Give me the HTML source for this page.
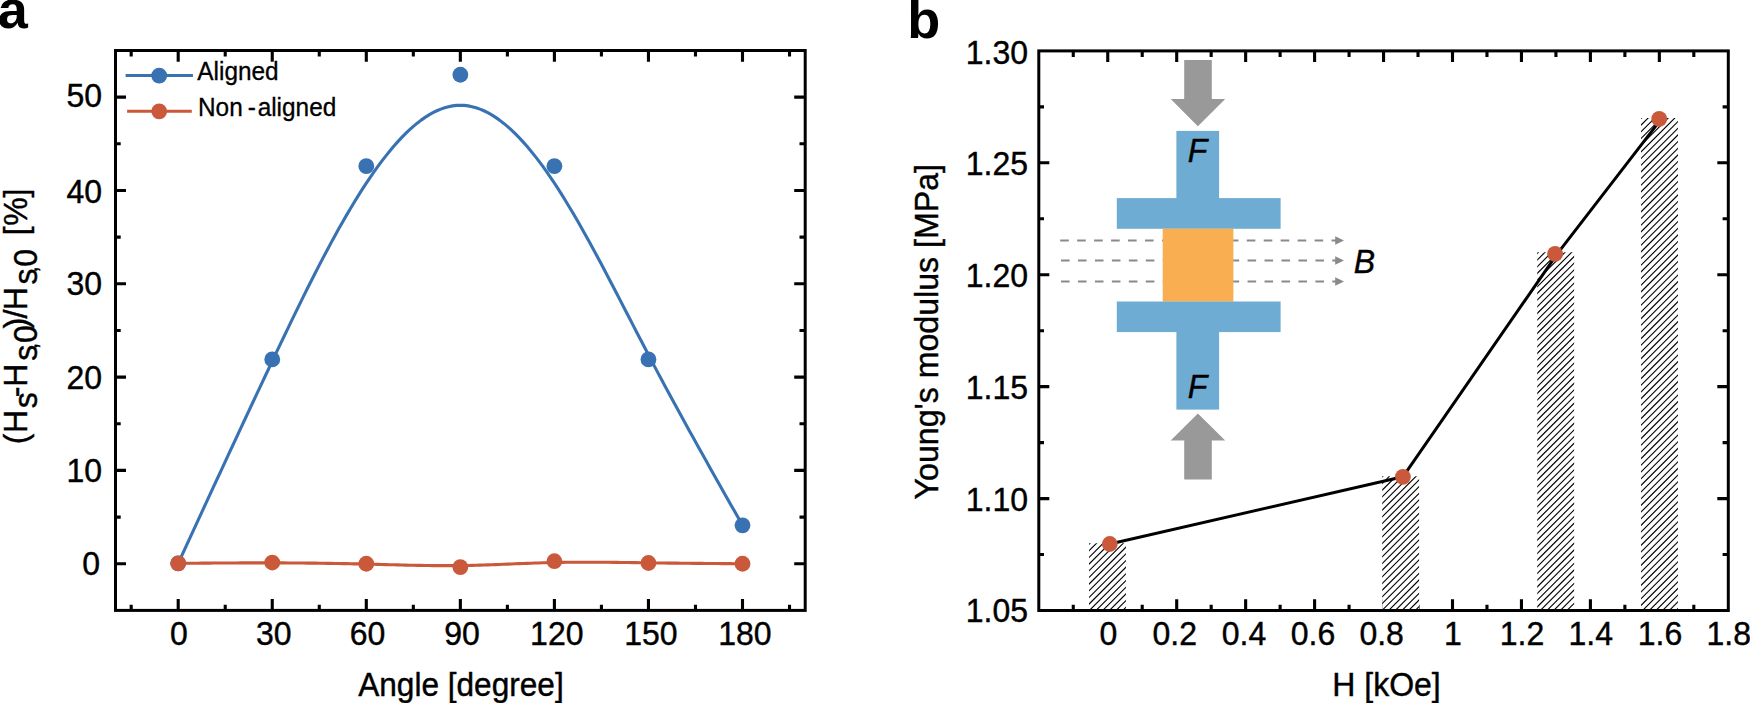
<!DOCTYPE html>
<html lang="en"><head><meta charset="utf-8"><title>Figure</title>
<style>html,body{margin:0;padding:0;background:#fff;overflow:hidden}body{width:1750px;height:703px;position:relative}</style>
</head><body>
<svg width="1750" height="703" viewBox="0 0 1750 703" style="position:absolute;left:0;top:0;display:block">
<rect width="1750" height="703" fill="#fff"/>
<g id="panelA">
<path d="M178.20 563.37L182.12 554.87L186.04 546.37L189.96 537.87L193.88 529.38L197.79 520.89L201.71 512.40L205.63 503.92L209.55 495.44L213.47 486.97L217.39 478.50L221.31 470.05L225.22 461.60L229.14 453.16L233.06 444.73L236.98 436.31L240.90 427.91L244.82 419.52L248.74 411.14L252.66 402.77L256.57 394.42L260.49 386.09L264.41 377.77L268.33 369.47L272.25 361.18L276.17 352.92L280.09 344.68L284.01 336.47L287.93 328.31L291.84 320.18L295.76 312.11L299.68 304.10L303.60 296.15L307.52 288.28L311.44 280.48L315.36 272.76L319.28 265.14L323.19 257.61L327.11 250.19L331.03 242.88L334.95 235.69L338.87 228.62L342.79 221.68L346.71 214.88L350.62 208.23L354.54 201.72L358.46 195.37L362.38 189.18L366.30 183.17L370.22 177.32L374.14 171.67L378.06 166.20L381.98 160.92L385.89 155.85L389.81 150.98L393.73 146.32L397.65 141.88L401.57 137.67L405.49 133.68L409.41 129.93L413.33 126.42L417.24 123.15L421.16 120.14L425.08 117.39L429.00 114.91L432.92 112.69L436.84 110.75L440.76 109.09L444.68 107.72L448.59 106.65L452.51 105.87L456.43 105.40L460.35 105.25L464.27 105.40L468.19 105.87L472.11 106.65L476.03 107.72L479.94 109.09L483.86 110.75L487.78 112.69L491.70 114.91L495.62 117.39L499.54 120.14L503.46 123.15L507.38 126.42L511.29 129.93L515.21 133.68L519.13 137.67L523.05 141.88L526.97 146.32L530.89 150.98L534.81 155.85L538.73 160.92L542.64 166.20L546.56 171.67L550.48 177.32L554.40 183.17L558.32 189.18L562.24 195.36L566.16 201.71L570.08 208.20L573.99 214.83L577.91 221.58L581.83 228.46L585.75 235.46L589.67 242.55L593.59 249.73L597.51 257.00L601.42 264.35L605.34 271.75L609.26 279.22L613.18 286.73L617.10 294.27L621.02 301.84L624.94 309.44L628.86 317.04L632.78 324.63L636.69 332.22L640.61 339.79L644.53 347.33L648.45 354.84L652.54 362.62L656.63 370.35L660.72 378.03L664.81 385.67L668.90 393.27L672.98 400.83L677.07 408.35L681.16 415.83L685.25 423.28L689.34 430.70L693.43 438.08L697.52 445.45L701.61 452.78L705.70 460.10L709.79 467.39L713.88 474.67L717.97 481.93L722.05 489.18L726.14 496.42L730.23 503.64L734.32 510.86L738.41 518.08L742.50 525.30" fill="none" stroke="#3872b2" stroke-width="3.1" stroke-linejoin="round"/>
<path d="M178.20 563.37L182.12 563.33L186.04 563.30L189.96 563.26L193.88 563.23L197.79 563.20L201.71 563.16L205.63 563.13L209.55 563.10L213.47 563.07L217.39 563.04L221.31 563.02L225.22 562.99L229.14 562.97L233.06 562.95L236.98 562.93L240.90 562.91L244.82 562.90L248.74 562.88L252.66 562.87L256.57 562.87L260.49 562.86L264.41 562.86L268.33 562.86L272.25 562.87L276.17 562.88L280.09 562.89L284.01 562.91L287.93 562.93L291.84 562.95L295.76 562.98L299.68 563.01L303.60 563.05L307.52 563.09L311.44 563.13L315.36 563.17L319.28 563.22L323.19 563.28L327.11 563.33L331.03 563.39L334.95 563.46L338.87 563.52L342.79 563.59L346.71 563.67L350.62 563.75L354.54 563.83L358.46 563.92L362.38 564.01L366.30 564.10L370.22 564.20L374.14 564.30L378.06 564.40L381.98 564.50L385.89 564.61L389.81 564.71L393.73 564.81L397.65 564.91L401.57 565.01L405.49 565.10L409.41 565.19L413.33 565.27L417.24 565.35L421.16 565.42L425.08 565.48L429.00 565.54L432.92 565.58L436.84 565.62L440.76 565.64L444.68 565.65L448.59 565.65L452.51 565.64L456.43 565.61L460.35 565.56L464.27 565.50L468.19 565.43L472.11 565.34L476.03 565.24L479.94 565.12L483.86 565.00L487.78 564.87L491.70 564.73L495.62 564.59L499.54 564.44L503.46 564.28L507.38 564.13L511.29 563.97L515.21 563.81L519.13 563.66L523.05 563.50L526.97 563.35L530.89 563.21L534.81 563.07L538.73 562.93L542.64 562.81L546.56 562.69L550.48 562.59L554.40 562.50L558.32 562.42L562.24 562.35L566.16 562.30L570.08 562.25L573.99 562.22L577.91 562.20L581.83 562.19L585.75 562.18L589.67 562.19L593.59 562.20L597.51 562.22L601.42 562.25L605.34 562.28L609.26 562.31L613.18 562.36L617.10 562.40L621.02 562.45L624.94 562.50L628.86 562.55L632.78 562.61L636.69 562.66L640.61 562.72L644.53 562.77L648.45 562.82L652.54 562.88L656.63 562.93L660.72 562.98L664.81 563.03L668.90 563.08L672.98 563.12L677.07 563.16L681.16 563.21L685.25 563.25L689.34 563.29L693.43 563.33L697.52 563.37L701.61 563.40L705.70 563.44L709.79 563.47L713.88 563.51L717.97 563.54L722.05 563.58L726.14 563.61L730.23 563.64L734.32 563.68L738.41 563.71L742.50 563.74" fill="none" stroke="#c9593a" stroke-width="3.1" stroke-linejoin="round"/>
<circle cx="178.20" cy="563.37" r="7.9" fill="#3872b2"/>
<circle cx="272.25" cy="359.38" r="7.9" fill="#3872b2"/>
<circle cx="366.30" cy="166.21" r="7.9" fill="#3872b2"/>
<circle cx="460.35" cy="74.76" r="7.9" fill="#3872b2"/>
<circle cx="554.40" cy="166.21" r="7.9" fill="#3872b2"/>
<circle cx="648.45" cy="359.38" r="7.9" fill="#3872b2"/>
<circle cx="742.50" cy="525.30" r="7.9" fill="#3872b2"/>
<circle cx="178.20" cy="563.37" r="7.9" fill="#c9593a"/>
<circle cx="272.25" cy="562.53" r="7.9" fill="#c9593a"/>
<circle cx="366.30" cy="563.74" r="7.9" fill="#c9593a"/>
<circle cx="460.35" cy="567.10" r="7.9" fill="#c9593a"/>
<circle cx="554.40" cy="561.22" r="7.9" fill="#c9593a"/>
<circle cx="648.45" cy="563.00" r="7.9" fill="#c9593a"/>
<circle cx="742.50" cy="563.74" r="7.9" fill="#c9593a"/>
<path d="M125.6 75.6H192.9" stroke="#3872b2" stroke-width="3.0"/><circle cx="159.2" cy="75.6" r="7.9" fill="#3872b2"/>
<path d="M127.1 111.3H191.8" stroke="#c9593a" stroke-width="3.0"/><circle cx="159.2" cy="111.3" r="7.9" fill="#c9593a"/>
<text transform="translate(197.30 80.40) scale(1 1.03)" style="font-family:'Liberation Sans',Arial,Helvetica,sans-serif;font-size:24.4px" stroke="#000" stroke-width="0.3">Aligned</text>
<text transform="translate(198.00 115.80) scale(1 1.03)" style="font-family:'Liberation Sans',Arial,Helvetica,sans-serif;font-size:24.4px" stroke="#000" stroke-width="0.3">Non<tspan dx="-1.7"> -</tspan><tspan dx="1.7">aligned</tspan></text>
<path d="M178.20 610.40v-11.3M178.20 50.50v11.2M272.25 610.40v-11.3M272.25 50.50v11.2M366.30 610.40v-11.3M366.30 50.50v11.2M460.35 610.40v-11.3M460.35 50.50v11.2M554.40 610.40v-11.3M554.40 50.50v11.2M648.45 610.40v-11.3M648.45 50.50v11.2M742.50 610.40v-11.3M742.50 50.50v11.2M131.18 610.40v-5.7M131.18 50.50v6.1M225.22 610.40v-5.7M225.22 50.50v6.1M319.27 610.40v-5.7M319.27 50.50v6.1M413.33 610.40v-5.7M413.33 50.50v6.1M507.38 610.40v-5.7M507.38 50.50v6.1M601.42 610.40v-5.7M601.42 50.50v6.1M695.48 610.40v-5.7M695.48 50.50v6.1M789.52 610.40v-5.7M789.52 50.50v6.1M115.50 563.74h10.5M805.20 563.74h-11.0M115.50 470.42h10.5M805.20 470.42h-11.0M115.50 377.11h10.5M805.20 377.11h-11.0M115.50 283.79h10.5M805.20 283.79h-11.0M115.50 190.47h10.5M805.20 190.47h-11.0M115.50 97.16h10.5M805.20 97.16h-11.0M115.50 517.08h5.2M805.20 517.08h-5.7M115.50 423.77h5.2M805.20 423.77h-5.7M115.50 330.45h5.2M805.20 330.45h-5.7M115.50 237.13h5.2M805.20 237.13h-5.7M115.50 143.82h5.2M805.20 143.82h-5.7" stroke="#000" stroke-width="3.1" fill="none"/>
<rect x="115.50" y="50.50" width="689.70" height="559.90" fill="none" stroke="#000" stroke-width="3.0"/>
<text transform="translate(178.90 645.20) scale(1 1.03)" text-anchor="middle" style="font-family:'Liberation Sans',Arial,Helvetica,sans-serif;font-size:32px" stroke="#000" stroke-width="0.4">0</text>
<text transform="translate(273.85 645.20) scale(1 1.03)" text-anchor="middle" style="font-family:'Liberation Sans',Arial,Helvetica,sans-serif;font-size:32px" stroke="#000" stroke-width="0.4">30</text>
<text transform="translate(367.60 645.20) scale(1 1.03)" text-anchor="middle" style="font-family:'Liberation Sans',Arial,Helvetica,sans-serif;font-size:32px" stroke="#000" stroke-width="0.4">60</text>
<text transform="translate(461.95 645.20) scale(1 1.03)" text-anchor="middle" style="font-family:'Liberation Sans',Arial,Helvetica,sans-serif;font-size:32px" stroke="#000" stroke-width="0.4">90</text>
<text transform="translate(556.80 645.20) scale(1 1.03)" text-anchor="middle" style="font-family:'Liberation Sans',Arial,Helvetica,sans-serif;font-size:32px" stroke="#000" stroke-width="0.4">120</text>
<text transform="translate(650.85 645.20) scale(1 1.03)" text-anchor="middle" style="font-family:'Liberation Sans',Arial,Helvetica,sans-serif;font-size:32px" stroke="#000" stroke-width="0.4">150</text>
<text transform="translate(744.90 645.20) scale(1 1.03)" text-anchor="middle" style="font-family:'Liberation Sans',Arial,Helvetica,sans-serif;font-size:32px" stroke="#000" stroke-width="0.4">180</text>
<text transform="translate(100.10 575.44) scale(1 1.03)" text-anchor="end" style="font-family:'Liberation Sans',Arial,Helvetica,sans-serif;font-size:32px" stroke="#000" stroke-width="0.4">0</text>
<text transform="translate(102.00 482.12) scale(1 1.03)" text-anchor="end" style="font-family:'Liberation Sans',Arial,Helvetica,sans-serif;font-size:32px" stroke="#000" stroke-width="0.4">10</text>
<text transform="translate(102.00 388.81) scale(1 1.03)" text-anchor="end" style="font-family:'Liberation Sans',Arial,Helvetica,sans-serif;font-size:32px" stroke="#000" stroke-width="0.4">20</text>
<text transform="translate(102.00 295.49) scale(1 1.03)" text-anchor="end" style="font-family:'Liberation Sans',Arial,Helvetica,sans-serif;font-size:32px" stroke="#000" stroke-width="0.4">30</text>
<text transform="translate(102.00 202.87) scale(1 1.03)" text-anchor="end" style="font-family:'Liberation Sans',Arial,Helvetica,sans-serif;font-size:32px" stroke="#000" stroke-width="0.4">40</text>
<text transform="translate(102.00 106.86) scale(1 1.03)" text-anchor="end" style="font-family:'Liberation Sans',Arial,Helvetica,sans-serif;font-size:32px" stroke="#000" stroke-width="0.4">50</text>
<text transform="translate(460.95 696.30) scale(1 1.03)" text-anchor="middle" style="font-family:'Liberation Sans',Arial,Helvetica,sans-serif;font-size:31.6px" stroke="#000" stroke-width="0.4">Angle [degree]</text>
<text transform="translate(-2.30 27.80) scale(1 1.0)" style="font-family:'Liberation Sans',Arial,Helvetica,sans-serif;font-size:54px;font-weight:bold" stroke="#000" stroke-width="0">a</text>
<text transform="scale(1.03 1) rotate(-90)" x="-444.28 -432.93 -408.29 -397.32 -386.73 -360.69 -348.98 -342.95 -328.49 -318.50 -310.23 -284.59 -272.58 -266.75 -244.18 -235.18 -225.64 -197.45" y="26.12 26.12 35.63 26.12 26.12 35.63 35.53 35.63 26.12 26.12 26.12 35.63 35.53 35.63 26.12 26.12 26.12 26.12" style="font-family:'Liberation Sans',Arial,Helvetica,sans-serif;font-size:32px" stroke="#000" stroke-width="0.4">(Hs-Hs<tspan style="font-size:22px">,</tspan>0)/Hs<tspan style="font-size:22px">,</tspan>0 [%]</text>
</g>
<g id="panelB">
<path d="M1107.75 610.50v-11.3M1107.75 50.90v11.2M1176.70 610.50v-11.3M1176.70 50.90v11.2M1245.65 610.50v-11.3M1245.65 50.90v11.2M1314.60 610.50v-11.3M1314.60 50.90v11.2M1383.55 610.50v-11.3M1383.55 50.90v11.2M1452.50 610.50v-11.3M1452.50 50.90v11.2M1521.45 610.50v-11.3M1521.45 50.90v11.2M1590.40 610.50v-11.3M1590.40 50.90v11.2M1659.35 610.50v-11.3M1659.35 50.90v11.2M1073.27 610.50v-5.7M1073.27 50.90v6.1M1142.22 610.50v-5.7M1142.22 50.90v6.1M1211.17 610.50v-5.7M1211.17 50.90v6.1M1280.12 610.50v-5.7M1280.12 50.90v6.1M1349.07 610.50v-5.7M1349.07 50.90v6.1M1418.03 610.50v-5.7M1418.03 50.90v6.1M1486.97 610.50v-5.7M1486.97 50.90v6.1M1555.92 610.50v-5.7M1555.92 50.90v6.1M1624.88 610.50v-5.7M1624.88 50.90v6.1M1693.82 610.50v-5.7M1693.82 50.90v6.1M1038.80 498.58h10.5M1728.30 498.58h-11.0M1038.80 386.66h10.5M1728.30 386.66h-11.0M1038.80 274.74h10.5M1728.30 274.74h-11.0M1038.80 162.82h10.5M1728.30 162.82h-11.0M1038.80 554.54h5.2M1728.30 554.54h-5.7M1038.80 442.62h5.2M1728.30 442.62h-5.7M1038.80 330.70h5.2M1728.30 330.70h-5.7M1038.80 218.78h5.2M1728.30 218.78h-5.7M1038.80 106.86h5.2M1728.30 106.86h-5.7" stroke="#000" stroke-width="3.1" fill="none"/>
<rect x="1089.05" y="543.35" width="36.90" height="67.15" fill="#fff"/>
<clipPath id="cb0"><rect x="1089.05" y="543.35" width="36.90" height="67.15"/></clipPath>
<path d="M1088.05 538.41L1126.95 499.51M1088.05 545.08L1126.95 506.18M1088.05 551.75L1126.95 512.85M1088.05 558.42L1126.95 519.52M1088.05 565.09L1126.95 526.19M1088.05 571.76L1126.95 532.86M1088.05 578.43L1126.95 539.53M1088.05 585.10L1126.95 546.20M1088.05 591.77L1126.95 552.87M1088.05 598.44L1126.95 559.54M1088.05 605.11L1126.95 566.21M1088.05 611.78L1126.95 572.88M1088.05 618.45L1126.95 579.55M1088.05 625.12L1126.95 586.22M1088.05 631.79L1126.95 592.89M1088.05 638.46L1126.95 599.56M1088.05 645.13L1126.95 606.23M1088.05 651.80L1126.95 612.90" stroke="#000" stroke-width="1.12" fill="none" clip-path="url(#cb0)"/>
<rect x="1382.20" y="476.20" width="36.90" height="134.30" fill="#fff"/>
<clipPath id="cb1"><rect x="1382.20" y="476.20" width="36.90" height="134.30"/></clipPath>
<path d="M1381.20 471.15L1420.10 432.25M1381.20 477.82L1420.10 438.92M1381.20 484.49L1420.10 445.59M1381.20 491.16L1420.10 452.26M1381.20 497.83L1420.10 458.93M1381.20 504.50L1420.10 465.60M1381.20 511.17L1420.10 472.27M1381.20 517.84L1420.10 478.94M1381.20 524.51L1420.10 485.61M1381.20 531.18L1420.10 492.28M1381.20 537.85L1420.10 498.95M1381.20 544.52L1420.10 505.62M1381.20 551.19L1420.10 512.29M1381.20 557.86L1420.10 518.96M1381.20 564.53L1420.10 525.63M1381.20 571.20L1420.10 532.30M1381.20 577.87L1420.10 538.97M1381.20 584.54L1420.10 545.64M1381.20 591.21L1420.10 552.31M1381.20 597.88L1420.10 558.98M1381.20 604.55L1420.10 565.65M1381.20 611.22L1420.10 572.32M1381.20 617.89L1420.10 578.99M1381.20 624.56L1420.10 585.66M1381.20 631.23L1420.10 592.33M1381.20 637.90L1420.10 599.00M1381.20 644.57L1420.10 605.67M1381.20 651.24L1420.10 612.34" stroke="#000" stroke-width="1.12" fill="none" clip-path="url(#cb1)"/>
<rect x="1537.25" y="252.36" width="36.90" height="358.14" fill="#fff"/>
<clipPath id="cb2"><rect x="1537.25" y="252.36" width="36.90" height="358.14"/></clipPath>
<path d="M1536.25 247.67L1575.15 208.77M1536.25 254.34L1575.15 215.44M1536.25 261.01L1575.15 222.11M1536.25 267.68L1575.15 228.78M1536.25 274.35L1575.15 235.45M1536.25 281.02L1575.15 242.12M1536.25 287.69L1575.15 248.79M1536.25 294.36L1575.15 255.46M1536.25 301.03L1575.15 262.13M1536.25 307.70L1575.15 268.80M1536.25 314.37L1575.15 275.47M1536.25 321.04L1575.15 282.14M1536.25 327.71L1575.15 288.81M1536.25 334.38L1575.15 295.48M1536.25 341.05L1575.15 302.15M1536.25 347.72L1575.15 308.82M1536.25 354.39L1575.15 315.49M1536.25 361.06L1575.15 322.16M1536.25 367.73L1575.15 328.83M1536.25 374.40L1575.15 335.50M1536.25 381.07L1575.15 342.17M1536.25 387.74L1575.15 348.84M1536.25 394.41L1575.15 355.51M1536.25 401.08L1575.15 362.18M1536.25 407.75L1575.15 368.85M1536.25 414.42L1575.15 375.52M1536.25 421.09L1575.15 382.19M1536.25 427.76L1575.15 388.86M1536.25 434.43L1575.15 395.53M1536.25 441.10L1575.15 402.20M1536.25 447.77L1575.15 408.87M1536.25 454.44L1575.15 415.54M1536.25 461.11L1575.15 422.21M1536.25 467.78L1575.15 428.88M1536.25 474.45L1575.15 435.55M1536.25 481.12L1575.15 442.22M1536.25 487.79L1575.15 448.89M1536.25 494.46L1575.15 455.56M1536.25 501.13L1575.15 462.23M1536.25 507.80L1575.15 468.90M1536.25 514.47L1575.15 475.57M1536.25 521.14L1575.15 482.24M1536.25 527.81L1575.15 488.91M1536.25 534.48L1575.15 495.58M1536.25 541.15L1575.15 502.25M1536.25 547.82L1575.15 508.92M1536.25 554.49L1575.15 515.59M1536.25 561.16L1575.15 522.26M1536.25 567.83L1575.15 528.93M1536.25 574.50L1575.15 535.60M1536.25 581.17L1575.15 542.27M1536.25 587.84L1575.15 548.94M1536.25 594.51L1575.15 555.61M1536.25 601.18L1575.15 562.28M1536.25 607.85L1575.15 568.95M1536.25 614.52L1575.15 575.62M1536.25 621.19L1575.15 582.29M1536.25 627.86L1575.15 588.96M1536.25 634.53L1575.15 595.63M1536.25 641.20L1575.15 602.30M1536.25 647.87L1575.15 608.97M1536.25 654.54L1575.15 615.64" stroke="#000" stroke-width="1.12" fill="none" clip-path="url(#cb2)"/>
<rect x="1641.05" y="118.05" width="36.90" height="492.45" fill="#fff"/>
<clipPath id="cb3"><rect x="1641.05" y="118.05" width="36.90" height="492.45"/></clipPath>
<path d="M1640.05 112.77L1678.95 73.87M1640.05 119.44L1678.95 80.54M1640.05 126.11L1678.95 87.21M1640.05 132.78L1678.95 93.88M1640.05 139.45L1678.95 100.55M1640.05 146.12L1678.95 107.22M1640.05 152.79L1678.95 113.89M1640.05 159.46L1678.95 120.56M1640.05 166.13L1678.95 127.23M1640.05 172.80L1678.95 133.90M1640.05 179.47L1678.95 140.57M1640.05 186.14L1678.95 147.24M1640.05 192.81L1678.95 153.91M1640.05 199.48L1678.95 160.58M1640.05 206.15L1678.95 167.25M1640.05 212.82L1678.95 173.92M1640.05 219.49L1678.95 180.59M1640.05 226.16L1678.95 187.26M1640.05 232.83L1678.95 193.93M1640.05 239.50L1678.95 200.60M1640.05 246.17L1678.95 207.27M1640.05 252.84L1678.95 213.94M1640.05 259.51L1678.95 220.61M1640.05 266.18L1678.95 227.28M1640.05 272.85L1678.95 233.95M1640.05 279.52L1678.95 240.62M1640.05 286.19L1678.95 247.29M1640.05 292.86L1678.95 253.96M1640.05 299.53L1678.95 260.63M1640.05 306.20L1678.95 267.30M1640.05 312.87L1678.95 273.97M1640.05 319.54L1678.95 280.64M1640.05 326.21L1678.95 287.31M1640.05 332.88L1678.95 293.98M1640.05 339.55L1678.95 300.65M1640.05 346.22L1678.95 307.32M1640.05 352.89L1678.95 313.99M1640.05 359.56L1678.95 320.66M1640.05 366.23L1678.95 327.33M1640.05 372.90L1678.95 334.00M1640.05 379.57L1678.95 340.67M1640.05 386.24L1678.95 347.34M1640.05 392.91L1678.95 354.01M1640.05 399.58L1678.95 360.68M1640.05 406.25L1678.95 367.35M1640.05 412.92L1678.95 374.02M1640.05 419.59L1678.95 380.69M1640.05 426.26L1678.95 387.36M1640.05 432.93L1678.95 394.03M1640.05 439.60L1678.95 400.70M1640.05 446.27L1678.95 407.37M1640.05 452.94L1678.95 414.04M1640.05 459.61L1678.95 420.71M1640.05 466.28L1678.95 427.38M1640.05 472.95L1678.95 434.05M1640.05 479.62L1678.95 440.72M1640.05 486.29L1678.95 447.39M1640.05 492.96L1678.95 454.06M1640.05 499.63L1678.95 460.73M1640.05 506.30L1678.95 467.40M1640.05 512.97L1678.95 474.07M1640.05 519.64L1678.95 480.74M1640.05 526.31L1678.95 487.41M1640.05 532.98L1678.95 494.08M1640.05 539.65L1678.95 500.75M1640.05 546.32L1678.95 507.42M1640.05 552.99L1678.95 514.09M1640.05 559.66L1678.95 520.76M1640.05 566.33L1678.95 527.43M1640.05 573.00L1678.95 534.10M1640.05 579.67L1678.95 540.77M1640.05 586.34L1678.95 547.44M1640.05 593.01L1678.95 554.11M1640.05 599.68L1678.95 560.78M1640.05 606.35L1678.95 567.45M1640.05 613.02L1678.95 574.12M1640.05 619.69L1678.95 580.79M1640.05 626.36L1678.95 587.46M1640.05 633.03L1678.95 594.13M1640.05 639.70L1678.95 600.80M1640.05 646.37L1678.95 607.47M1640.05 653.04L1678.95 614.14" stroke="#000" stroke-width="1.12" fill="none" clip-path="url(#cb3)"/>
<rect x="1038.80" y="50.90" width="689.50" height="559.60" fill="none" stroke="#000" stroke-width="3.0"/>
<path d="M1109.8 544.0L1402.9 476.8L1557.2 253.8L1661.3 118.9" fill="none" stroke="#000" stroke-width="3.0" stroke-linejoin="round"/>
<circle cx="1109.8" cy="544.0" r="7.9" fill="#c9593a"/>
<circle cx="1402.9" cy="476.8" r="7.9" fill="#c9593a"/>
<circle cx="1555.1" cy="253.8" r="7.9" fill="#c9593a"/>
<circle cx="1659.2" cy="118.9" r="7.9" fill="#c9593a"/>
<path d="M1184.2 60.1H1211.8V99.1H1225.2L1197.9 126.3L1170.7 99.1H1184.2Z" fill="#999999"/>
<path d="M1184.2 479.6H1211.8V440.6H1225.2L1197.9 413.6L1170.7 440.6H1184.2Z" fill="#999999"/>
<path d="M1060.2 240.5H1337" stroke="#8a8a8a" stroke-width="1.9" stroke-dasharray="8.6 8.36" fill="none"/>
<path d="M1335.2 236.2L1344 240.5L1335.2 244.8Z" fill="#8a8a8a"/>
<path d="M1061.0 260.5H1337" stroke="#8a8a8a" stroke-width="1.9" stroke-dasharray="8.6 8.36" fill="none"/>
<path d="M1335.2 256.2L1344 260.5L1335.2 264.8Z" fill="#8a8a8a"/>
<path d="M1061.0 281.5H1337" stroke="#8a8a8a" stroke-width="1.9" stroke-dasharray="8.6 8.36" fill="none"/>
<path d="M1335.2 277.2L1344 281.5L1335.2 285.8Z" fill="#8a8a8a"/>
<rect x="1176.4" y="130.9" width="42.7" height="68" fill="#6eacd4"/>
<rect x="1116.8" y="198.1" width="163.8" height="30.7" fill="#6eacd4"/>
<rect x="1162.7" y="228.7" width="70.7" height="72.9" fill="#f9ae51"/>
<rect x="1116.8" y="301.5" width="163.8" height="30.6" fill="#6eacd4"/>
<rect x="1176.4" y="331.5" width="42.7" height="78.1" fill="#6eacd4"/>
<text transform="translate(1187.80 162.10) scale(1 1.03)" style="font-family:'Liberation Sans',Arial,Helvetica,sans-serif;font-size:32px;font-style:italic" stroke="#000" stroke-width="0.4">F</text>
<text transform="translate(1187.80 397.50) scale(1 1.03)" style="font-family:'Liberation Sans',Arial,Helvetica,sans-serif;font-size:32px;font-style:italic" stroke="#000" stroke-width="0.4">F</text>
<text transform="translate(1353.80 272.90) scale(1 1.03)" style="font-family:'Liberation Sans',Arial,Helvetica,sans-serif;font-size:32px;font-style:italic" stroke="#000" stroke-width="0.4">B</text>
<text transform="translate(1108.45 645.40) scale(1 1.03)" text-anchor="middle" style="font-family:'Liberation Sans',Arial,Helvetica,sans-serif;font-size:32px" stroke="#000" stroke-width="0.4">0</text>
<text transform="translate(1174.80 645.40) scale(1 1.03)" text-anchor="middle" style="font-family:'Liberation Sans',Arial,Helvetica,sans-serif;font-size:32px" stroke="#000" stroke-width="0.4">0.2</text>
<text transform="translate(1243.95 645.40) scale(1 1.03)" text-anchor="middle" style="font-family:'Liberation Sans',Arial,Helvetica,sans-serif;font-size:32px" stroke="#000" stroke-width="0.4">0.4</text>
<text transform="translate(1313.00 645.40) scale(1 1.03)" text-anchor="middle" style="font-family:'Liberation Sans',Arial,Helvetica,sans-serif;font-size:32px" stroke="#000" stroke-width="0.4">0.6</text>
<text transform="translate(1381.65 645.40) scale(1 1.03)" text-anchor="middle" style="font-family:'Liberation Sans',Arial,Helvetica,sans-serif;font-size:32px" stroke="#000" stroke-width="0.4">0.8</text>
<text transform="translate(1452.90 645.40) scale(1 1.03)" text-anchor="middle" style="font-family:'Liberation Sans',Arial,Helvetica,sans-serif;font-size:32px" stroke="#000" stroke-width="0.4">1</text>
<text transform="translate(1522.05 645.40) scale(1 1.03)" text-anchor="middle" style="font-family:'Liberation Sans',Arial,Helvetica,sans-serif;font-size:32px" stroke="#000" stroke-width="0.4">1.2</text>
<text transform="translate(1590.80 645.40) scale(1 1.03)" text-anchor="middle" style="font-family:'Liberation Sans',Arial,Helvetica,sans-serif;font-size:32px" stroke="#000" stroke-width="0.4">1.4</text>
<text transform="translate(1659.95 645.40) scale(1 1.03)" text-anchor="middle" style="font-family:'Liberation Sans',Arial,Helvetica,sans-serif;font-size:32px" stroke="#000" stroke-width="0.4">1.6</text>
<text transform="translate(1728.80 645.40) scale(1 1.03)" text-anchor="middle" style="font-family:'Liberation Sans',Arial,Helvetica,sans-serif;font-size:32px" stroke="#000" stroke-width="0.4">1.8</text>
<text transform="translate(1028.00 622.00) scale(1 1.03)" text-anchor="end" style="font-family:'Liberation Sans',Arial,Helvetica,sans-serif;font-size:32px" stroke="#000" stroke-width="0.4">1.05</text>
<text transform="translate(1028.00 510.58) scale(1 1.03)" text-anchor="end" style="font-family:'Liberation Sans',Arial,Helvetica,sans-serif;font-size:32px" stroke="#000" stroke-width="0.4">1.10</text>
<text transform="translate(1028.00 398.66) scale(1 1.03)" text-anchor="end" style="font-family:'Liberation Sans',Arial,Helvetica,sans-serif;font-size:32px" stroke="#000" stroke-width="0.4">1.15</text>
<text transform="translate(1028.00 286.74) scale(1 1.03)" text-anchor="end" style="font-family:'Liberation Sans',Arial,Helvetica,sans-serif;font-size:32px" stroke="#000" stroke-width="0.4">1.20</text>
<text transform="translate(1028.00 174.82) scale(1 1.03)" text-anchor="end" style="font-family:'Liberation Sans',Arial,Helvetica,sans-serif;font-size:32px" stroke="#000" stroke-width="0.4">1.25</text>
<text transform="translate(1028.00 63.90) scale(1 1.03)" text-anchor="end" style="font-family:'Liberation Sans',Arial,Helvetica,sans-serif;font-size:32px" stroke="#000" stroke-width="0.4">1.30</text>
<text transform="translate(1386.50 696.40) scale(1 1.03)" text-anchor="middle" style="font-family:'Liberation Sans',Arial,Helvetica,sans-serif;font-size:32px" stroke="#000" stroke-width="0.4">H [kOe]</text>
<text transform="translate(907.30 37.90) scale(1 1.0)" style="font-family:'Liberation Sans',Arial,Helvetica,sans-serif;font-size:54px;font-weight:bold" stroke="#000" stroke-width="0">b</text>
<text transform="translate(938.10 331.70) rotate(-90) scale(1 1.03)" text-anchor="middle" style="font-family:'Liberation Sans',Arial,Helvetica,sans-serif;font-size:32.15px" stroke="#000" stroke-width="0.4">Young's modulus [MPa]</text>
</g>
</svg>
</body></html>
